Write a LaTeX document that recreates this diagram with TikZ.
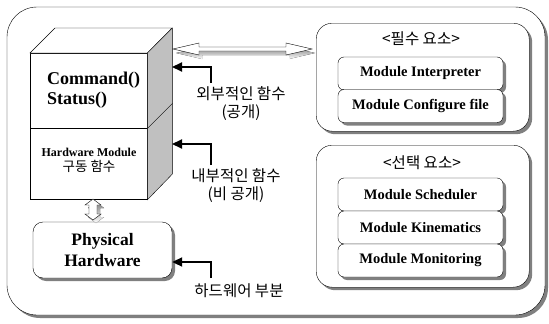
\documentclass[tikz,border=0pt]{standalone}
\usepackage{fontspec}
\setmainfont{Liberation Serif}
\newfontfamily\kofont{Noto Sans CJK KR}
\usetikzlibrary{shadows, arrows.meta}
\definecolor{shade}{RGB}{128, 128, 128}
\definecolor{side}{RGB}{192, 192, 192}

\tikzset{
  sbox/.style={draw, fill=white, rounded corners=#1,
    drop shadow={shadow xshift=3pt, shadow yshift=-3pt, fill=shade, opacity=1}},
  modbox/.style={sbox=6pt, minimum width=165pt, minimum height=33pt, inner sep=0,
    font=\bfseries\fontsize{14.5}{17}\selectfont},
  kolabel/.style={align=center, inner sep=0, font=\kofont\fontsize{15.5}{18}\selectfont},
  ptr/.style={line width=2pt, -{Triangle[length=10pt, width=9pt]}}
}

\begin{document}
\begin{tikzpicture}[x=1pt, y=-1pt]
  \useasboundingbox (0, 0) rectangle (549, 324);

  % outer frame
  \draw[sbox=30pt] (7, 7) rectangle (545, 315);

  % module cube
  \node[draw, fill=white, minimum width=117pt, minimum height=75pt, inner sep=0,
        anchor=north west] (cmdface) at (30, 53) {};
  \node[draw, fill=white, minimum width=117pt, minimum height=71pt, inner sep=0,
        anchor=north west] (drvface) at (cmdface.south west) {};
  \draw[fill=white] (cmdface.north west) -- ++(25, -25) -- ++(117, 0)
    -- (cmdface.north east) -- cycle;
  \draw[fill=side] (cmdface.north east) -- ++(25, -25) -- ++(0, 146)
    -- (drvface.south east) -- cycle;
  \draw (cmdface.south east) -- ++(25, -25);

  \node[anchor=west, align=left, inner sep=0,
        font=\bfseries\fontsize{18}{20}\selectfont] (cmdtxt) at (47, 90)
    {Command()\\Status()};
  \node[align=center, inner sep=0, font=\fontsize{12}{15}\selectfont] (drvtxt) at (89, 160)
    {{\bfseries Hardware Module}\\{\kofont\fontsize{13.5}{15}\selectfont 구동 함수}};

  % physical hardware
  \node[sbox=10pt, minimum width=139pt, minimum height=56pt, align=center,
        font=\bfseries\fontsize{17.5}{21}\selectfont] (phys) at (102.5, 250)
    {Physical\\Hardware};

  % hollow arrows
  \fill[shade, shift={(3, 4)}] (173, 49) -- (199, 43) -- (199, 47) -- (286, 47)
    -- (286, 43) -- (312, 49) -- (286, 55) -- (286, 51) -- (199, 51) -- (199, 55) -- cycle;
  \draw[fill=white] (173, 49) -- (199, 43) -- (199, 47) -- (286, 47)
    -- (286, 43) -- (312, 49) -- (286, 55) -- (286, 51) -- (199, 51) -- (199, 55) -- cycle;

  \fill[shade, shift={(3, 3)}] (93, 199) -- (85, 205) -- (89, 205) -- (89, 214)
    -- (85, 214) -- (93, 220) -- (101, 214) -- (97, 214) -- (97, 205) -- (101, 205) -- cycle;
  \draw[fill=white] (93, 199) -- (85, 205) -- (89, 205) -- (89, 214)
    -- (85, 214) -- (93, 220) -- (101, 214) -- (97, 214) -- (97, 205) -- (101, 205) -- cycle;

  % labels and pointers
  \node[kolabel] (lblpub) at (241, 104) {외부적인 함수\\(공개)};
  \node[kolabel] (lblpriv) at (236, 186) {내부적인 함수\\(비 공개)};
  \node[kolabel] (lblhw) at (239, 291) {하드웨어 부분};

  \coordinate (tippub) at (172, 67);
  \coordinate (tippriv) at (172, 144);
  \coordinate (tailpub) at (211, 83);
  \coordinate (tailpriv) at (211, 165);
  \coordinate (tailhw) at (211, 278);

  \draw[ptr] (tailpub) |- (tippub);
  \draw[ptr] (tailpriv) |- (tippriv);
  \draw[ptr] (tailhw) |- (phys.east |- 0, 262);

  % required modules
  \node[sbox=16pt, minimum width=213pt, minimum height=108pt, anchor=north west]
    (must) at (316, 23) {};
  \node[kolabel] (mustttl) at (421, 39) {<필수 요소>};
  \node[modbox] (interp) at (420.5, 73.5) {Module Interpreter};
  \node[modbox] (config) at (420.5, 106) {Module Configure file};

  % optional modules
  \node[sbox=16pt, minimum width=213pt, minimum height=142pt, anchor=north west]
    (opt) at (316, 145) {};
  \node[kolabel] (optttl) at (422, 163) {<선택 요소>};
  \foreach [count=\n] \m in {Scheduler, Kinematics, Monitoring} {
    \node[modbox] (mod\n) at (420.5, {161.5 + 33 * \n}) {Module \m};
  }
\end{tikzpicture}
\end{document}
